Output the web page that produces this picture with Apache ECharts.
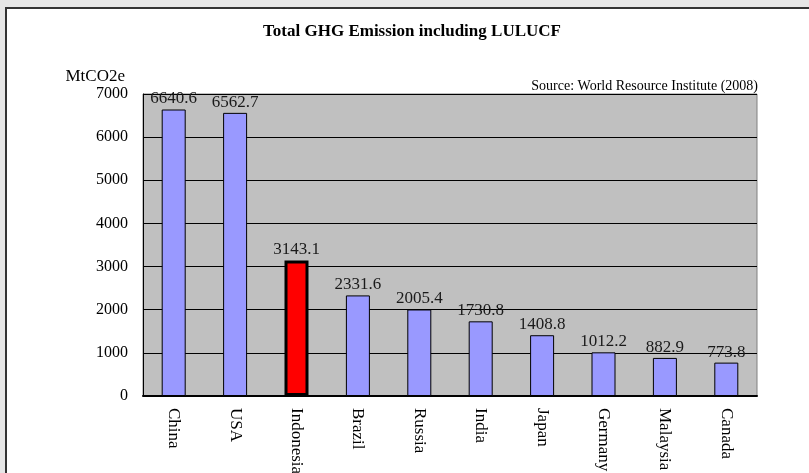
<!DOCTYPE html>
<html>
<head>
<meta charset="utf-8">
<script src="https://cdn.jsdelivr.net/npm/echarts@6/dist/echarts.min.js"></script>
<style>
  html, body { margin: 0; padding: 0; background: #e6e6e6; }
  #chart { width: 809px; height: 473px; }
</style>
</head>
<body>
<div id="chart"></div>
<script>
// countries and emission totals (MtCO2e)
const categories = ['China', 'USA', 'Indonesia', 'Brazil', 'Russia', 'India', 'Japan', 'Germany', 'Malaysia', 'Canada']
const emissions = [6640.6, 6562.7, 3143.1, 2331.6, 2005.4, 1730.8, 1408.8, 1012.2, 882.9, 773.8]
const highlighted = 'Indonesia'
const yTicks = [0, 1000, 2000, 3000, 4000, 5000, 6000, 7000]

const serif = '"Liberation Serif", "Times New Roman", serif'

const chart = echarts.init(document.getElementById('chart'))

const barData = emissions.map((v, i) => {
  const isHi = categories[i] === highlighted
  return {
    value: v,
    itemStyle: {
      color: isHi ? '#ff0000' : '#9999ff',
      borderColor: '#000',
      borderWidth: isHi ? 3 : 1
    }
  }
})

const option = {
  animation: false,
  backgroundColor: '#e6e6e6',
  graphic: [
    {
      type: 'rect',
      z: -10,
      shape: { x: 6, y: 8, width: 830, height: 500 },
      style: { fill: '#ffffff', stroke: '#333333', lineWidth: 2 }
    },
    {
      type: 'text',
      style: {
        x: 412, y: 32,
        text: 'Total GHG Emission including LULUCF',
        textAlign: 'center', textVerticalAlign: 'middle',
        font: 'bold 17px ' + serif, fill: '#000'
      }
    },
    {
      type: 'text',
      style: {
        x: 758, y: 86,
        text: 'Source: World Resource Institute (2008)',
        textAlign: 'right', textVerticalAlign: 'middle',
        font: '14px ' + serif, fill: '#000'
      }
    }
  ],
  grid: {
    left: 143,
    top: 94,
    width: 614,
    height: 302,
    outerBoundsMode: 'none',
    containLabel: false,
    show: true,
    backgroundColor: '#c0c0c0',
    borderColor: '#808080',
    borderWidth: 1
  },
  xAxis: {
    type: 'category',
    data: categories,
    axisLine: { lineStyle: { color: '#000', width: 2 } },
    axisTick: { inside: true, length: 4, lineStyle: { color: '#000' } },
    axisLabel: {
      rotate: -90,
      margin: 12,
      color: '#000',
      fontFamily: serif,
      fontSize: 17
    }
  },
  yAxis: {
    type: 'value',
    min: yTicks[0],
    max: yTicks[yTicks.length - 1],
    interval: 1000,
    name: 'MtCO2e',
    nameLocation: 'end',
    nameGap: 17,
    nameTextStyle: {
      color: '#000',
      fontFamily: serif,
      fontSize: 17,
      align: 'right',
      verticalAlign: 'middle',
      padding: [0, 18, 0, 0]
    },
    axisLine: { show: true, lineStyle: { color: '#000', width: 1 } },
    axisTick: { show: false },
    splitLine: { lineStyle: { color: '#000', width: 1 } },
    axisLabel: {
      margin: 15,
      color: '#000',
      fontFamily: serif,
      fontSize: 16,
      formatter: v => String(v)
    }
  },
  series: [
    {
      type: 'bar',
      barWidth: 24,
      data: barData,
      label: {
        show: true,
        position: 'top',
        distance: 2,
        color: '#1a1a1a',
        fontFamily: serif,
        fontSize: 17,
        formatter: p => p.value.toFixed(1)
      }
    }
  ]
}

chart.setOption(option)
</script>
</body>
</html>
